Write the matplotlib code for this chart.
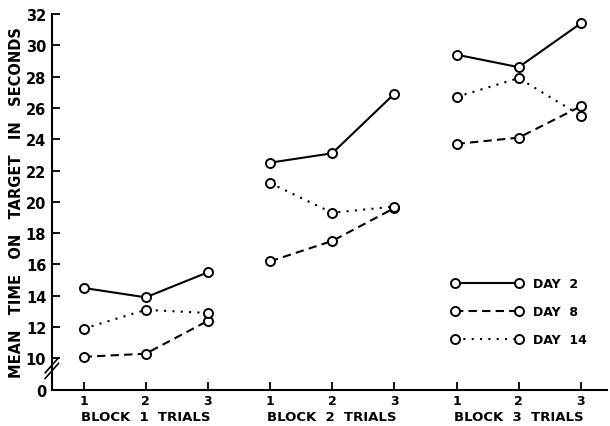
import numpy as np
from matplotlib import pyplot as plt

trial_labels = ['1', '2', '3'] * 3
block_names = ['BLOCK  1  TRIALS', 'BLOCK  2  TRIALS', 'BLOCK  3  TRIALS']
day2 = [14.5, 13.9, 15.5, 22.5, 23.1, 26.9, 29.4, 28.6, 31.4]
day8 = [10.1, 10.3, 12.4, 16.2, 17.5, 19.6, 23.7, 24.1, 26.1]
day14 = [11.9, 13.1, 12.9, 21.2, 19.3, 19.7, 26.7, 27.9, 25.5]
y_ticks = [8, 10, 12, 14, 16, 18, 20, 22, 24, 26, 28, 30, 32]
y_ticklabels = ['0', '10', '12', '14', '16', '18', '20', '22', '24', '26', '28', '30', '32']

plt.rcParams['font.family'] = 'DejaVu Sans'
plt.rcParams['font.weight'] = 'bold'

fig = plt.figure(figsize=(6.1, 4.27), dpi=100)
ax = fig.add_axes([0.085, 0.085, 0.91, 0.88])

x = np.arange(1, 10)
mk = dict(marker='o', ms=6.5, mfc='white', mec='black', mew=1.4, color='black')
styles = [(day2, '-', 'DAY  2'), (day8, (0, (4, 2.5)), 'DAY  8'), (day14, (0, (1, 3)), 'DAY  14')]
for vals, ls, lab in styles:
    # each block is drawn as its own segment
    for b in range(3):
        ax.plot(x[b*3:b*3+3], vals[b*3:b*3+3], ls=ls, lw=1.5, **mk,
                label=lab if b == 0 else None)

ax.set_xlim(0.49, 9.42)
ax.set_ylim(8, 32)
ax.set_yticks(y_ticks)
ax.set_yticklabels(y_ticklabels, fontsize=10.5)
ax.set_xticks(x)
ax.set_xticklabels(trial_labels, fontsize=9)
ax.tick_params(axis='both', direction='in', length=6, width=1.3)
ax.tick_params(axis='y', pad=4)
ax.tick_params(axis='x', pad=3)
ax.yaxis.get_major_ticks()[0].tick1line.set_visible(False)
for s in ['top', 'right']:
    ax.spines[s].set_visible(False)
for s in ['left', 'bottom']:
    ax.spines[s].set_linewidth(1.5)

for b, name in enumerate(block_names):
    ax.text(b*3 + 2, -0.07, name, transform=ax.get_xaxis_transform(),
            ha='center', va='center', fontsize=9.5)

ax.set_ylabel('MEAN   TIME   ON   TARGET   IN   SECONDS', fontsize=10.5,
              fontweight='bold', labelpad=1)

# axis break marks
ax.plot([-0.012, 0.012], [0.03, 0.07], transform=ax.transAxes, color='black', lw=1.2, clip_on=False)
ax.plot([-0.012, 0.012], [0.045, 0.085], transform=ax.transAxes, color='black', lw=1.2, clip_on=False)

leg = ax.legend(loc='upper left', bbox_to_anchor=(0.70, 0.33), frameon=False, numpoints=2,
                handlelength=5.7, labelspacing=1.2, fontsize=9, handletextpad=0.8)

fig.savefig('out.png', dpi=100)
